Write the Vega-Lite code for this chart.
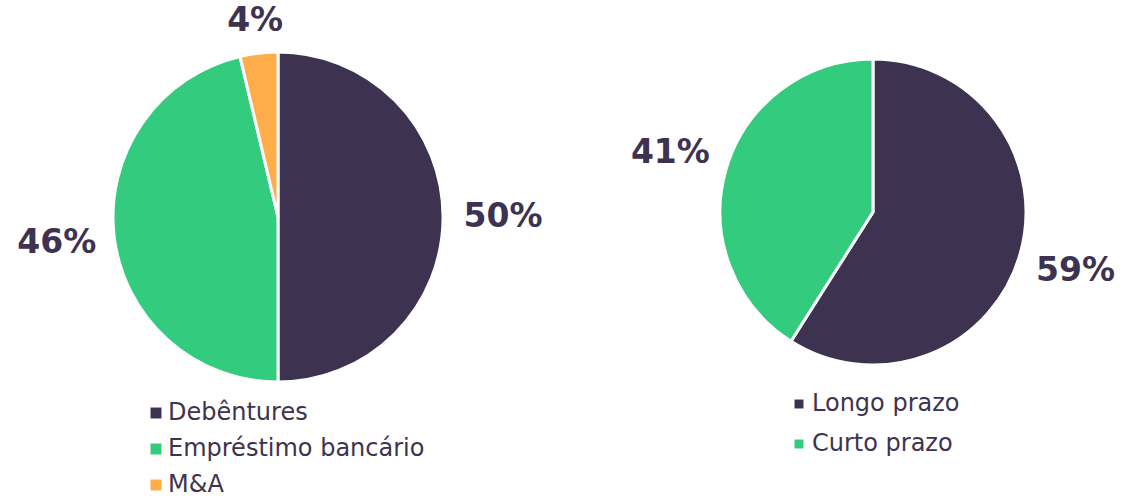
{
  "$schema": "https://vega.github.io/schema/vega-lite/v6.json",
  "padding": 0,
  "spacing": 68,
  "config": {"view": {"stroke": null}, "font": "DejaVu Sans"},
  "resolve": {"scale": {"color": "independent", "theta": "independent", "radius": "independent"}, "legend": {"color": "independent"}},
  "hconcat": [
    {
      "width": 556,
      "height": 434,
      "data": {"values": [
        {"k": "Debêntures", "v": 0.50, "i": 1},
        {"k": "Empréstimo bancário", "v": 0.463, "i": 2},
        {"k": "M&A", "v": 0.037, "i": 3}
      ]},
      "encoding": {
        "theta": {"field": "v", "type": "quantitative", "stack": true},
        "order": {"field": "i", "type": "quantitative"}
      },
      "layer": [
        {
          "mark": {"type": "arc", "outerRadius": 165, "stroke": "white", "strokeWidth": 3},
          "encoding": {
            "color": {"field": "k", "type": "nominal",
              "scale": {"domain": ["Debêntures", "Empréstimo bancário", "M&A"], "range": ["#3D3351", "#33CC7E", "#FFAD4A"]},
              "legend": {"orient": "none", "legendX": 144, "legendY": 401, "direction": "vertical", "title": null,
                "symbolType": "square", "symbolSize": 120, "labelFontSize": 24, "labelFont": "DejaVu Sans",
                "labelColor": "#3D3350", "rowPadding": 12, "labelOffset": 0, "padding": 0, "symbolStrokeWidth": 0, "labelLimit": 500}}
          }
        },
        {
          "mark": {"type": "text", "font": "DejaVu Sans", "fontWeight": "bold", "fontSize": 33, "color": "#3D3350"},
          "encoding": {
            "radius": {"field": "v", "type": "quantitative", "scale": {"type": "linear", "zero": false, "domain": [0.037, 0.5], "range": [197, 225]}},
            "text": {"field": "v", "type": "quantitative", "format": ".0%"}
          }
        }
      ]
    },
    {
      "width": 498,
      "height": 424,
      "data": {"values": [
        {"k": "Longo prazo", "v": 0.59, "i": 1},
        {"k": "Curto prazo", "v": 0.41, "i": 2}
      ]},
      "encoding": {
        "theta": {"field": "v", "type": "quantitative", "stack": true},
        "order": {"field": "i", "type": "quantitative"}
      },
      "layer": [
        {
          "mark": {"type": "arc", "outerRadius": 153, "stroke": "white", "strokeWidth": 3},
          "encoding": {
            "color": {"field": "k", "type": "nominal",
              "scale": {"domain": ["Longo prazo", "Curto prazo"], "range": ["#3D3351", "#33CC7E"]},
              "legend": {"orient": "none", "legendX": 163, "legendY": 392, "direction": "vertical", "title": null,
                "symbolType": "square", "symbolSize": 80, "labelFontSize": 24, "labelFont": "DejaVu Sans",
                "labelColor": "#3D3350", "rowPadding": 16, "labelOffset": 1, "padding": 0, "symbolStrokeWidth": 0, "labelLimit": 500}}
          }
        },
        {
          "mark": {"type": "text", "font": "DejaVu Sans", "fontWeight": "bold", "fontSize": 33, "color": "#3D3350", "radius": 211},
          "encoding": {
            "text": {"field": "v", "type": "quantitative", "format": ".0%"}
          }
        }
      ]
    }
  ]
}
